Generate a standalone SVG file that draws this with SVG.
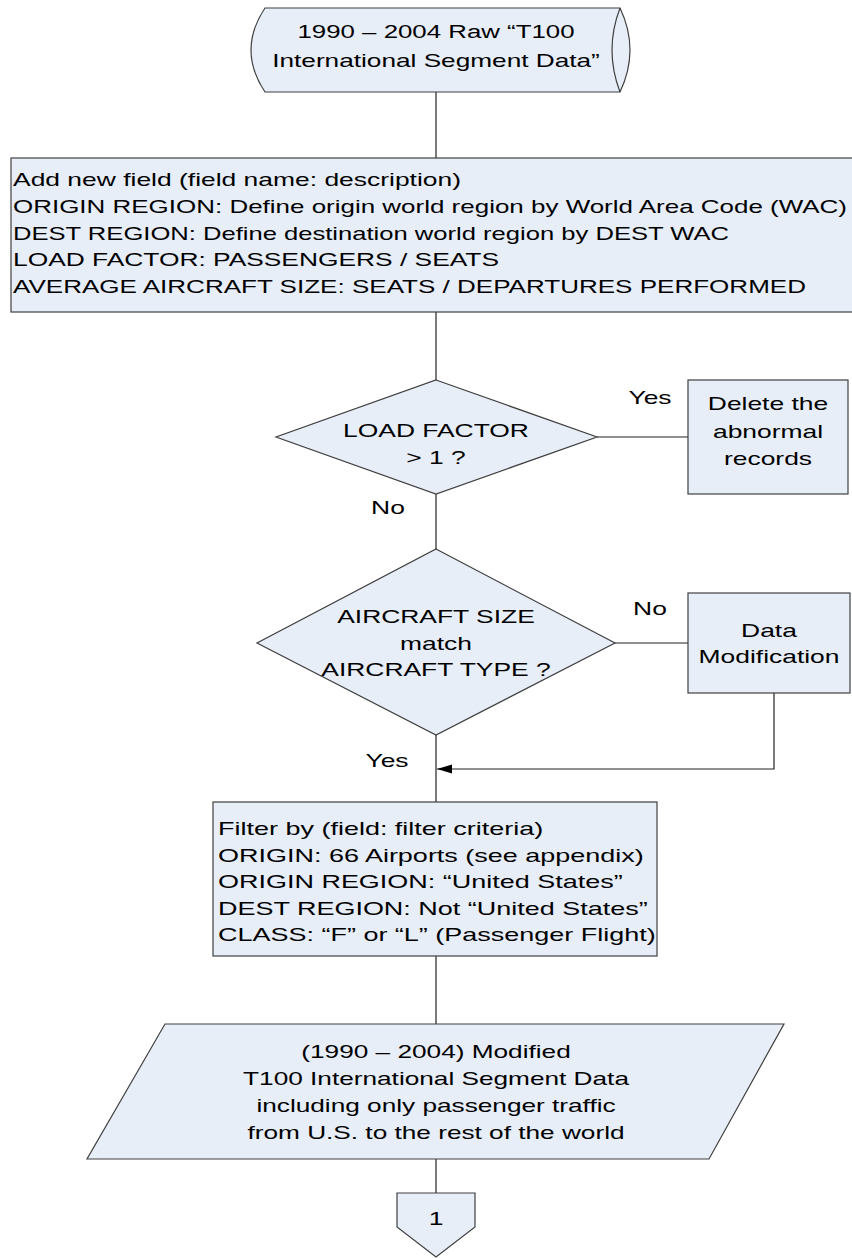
<svg xmlns="http://www.w3.org/2000/svg" width="852" height="1258" viewBox="0 0 852 1258">
<style>
.s{fill:#E7EEF8;stroke:#404040;stroke-width:1.2}
.c{fill:none;stroke:#222;stroke-width:1.2}
.t{font-family:"Liberation Sans",Arial,sans-serif;font-size:19px;fill:#000}
.m{text-anchor:middle}
</style>
<defs>
<marker id="ah" markerUnits="userSpaceOnUse" markerWidth="16" markerHeight="10" refX="15" refY="4.5" orient="auto">
<path d="M0,0 L15,4.5 L0,9 Z" fill="#000"/>
</marker>
</defs>
<rect width="852" height="1258" fill="#fff"/>
<g id="connectors">
<line class="c" x1="436" y1="92" x2="436" y2="158"/>
<line class="c" x1="436" y1="312" x2="436" y2="380"/>
<line class="c" x1="597" y1="437" x2="688" y2="437"/>
<line class="c" x1="436" y1="494" x2="436" y2="549"/>
<line class="c" x1="615" y1="643" x2="688" y2="643"/>
<polyline class="c" points="774,693 774,769 437,769" marker-end="url(#ah)"/>
<line class="c" x1="436" y1="735" x2="436" y2="802"/>
<line class="c" x1="436" y1="956" x2="436" y2="1024"/>
<line class="c" x1="436" y1="1159" x2="436" y2="1193"/>
</g>
<g id="raw-data">
<path class="s" d="M265,8 L620,8 Q640,50 620,92 L265,92 Q237,50 265,8 Z"/>
<path class="c" style="stroke:#404040" d="M620,8 Q604,50 620,92"/>
<text class="t m" transform="translate(436,38) scale(1.36,1)">1990 – 2004 Raw “T100</text>
<text class="t m" transform="translate(436,67) scale(1.38,1)">International Segment Data”</text>
</g>
<g id="add-fields">
<rect class="s" x="11" y="158" width="850" height="154"/>
<text class="t" x="13" y="186" textLength="448" lengthAdjust="spacingAndGlyphs">Add new field (field name: description)</text>
<text class="t" x="13" y="213" textLength="834" lengthAdjust="spacingAndGlyphs">ORIGIN REGION: Define origin world region by World Area Code (WAC)</text>
<text class="t" x="13" y="240" textLength="716" lengthAdjust="spacingAndGlyphs">DEST REGION: Define destination world region by DEST WAC</text>
<text class="t" x="13" y="266" textLength="486" lengthAdjust="spacingAndGlyphs">LOAD FACTOR: PASSENGERS / SEATS</text>
<text class="t" x="13" y="293" textLength="793" lengthAdjust="spacingAndGlyphs">AVERAGE AIRCRAFT SIZE: SEATS / DEPARTURES PERFORMED</text>
</g>
<g id="load-factor-check">
<polygon class="s" points="436,380 597,437 436,494 276,437"/>
<text class="t m" transform="translate(436,437) scale(1.39,1)">LOAD FACTOR</text>
<text class="t m" transform="translate(436,464) scale(1.39,1)">&gt; 1 ?</text>
</g>
<g id="label-yes-1">
<text class="t m" transform="translate(650,404) scale(1.39,1)">Yes</text>
</g>
<g id="delete-records">
<rect class="s" x="688" y="380" width="160" height="114"/>
<text class="t m" transform="translate(768,410) scale(1.39,1)">Delete the</text>
<text class="t m" transform="translate(768,438) scale(1.39,1)">abnormal</text>
<text class="t m" transform="translate(768,465) scale(1.39,1)">records</text>
</g>
<g id="label-no-1">
<text class="t m" transform="translate(388,514) scale(1.39,1)">No</text>
</g>
<g id="size-check">
<polygon class="s" points="436,549 615,643 436,735 257,643"/>
<text class="t m" transform="translate(436,623) scale(1.39,1)">AIRCRAFT SIZE</text>
<text class="t m" transform="translate(436,650) scale(1.39,1)">match</text>
<text class="t m" transform="translate(436,676) scale(1.39,1)">AIRCRAFT TYPE ?</text>
</g>
<g id="label-no-2">
<text class="t m" transform="translate(650,615) scale(1.39,1)">No</text>
</g>
<g id="data-modification">
<rect class="s" x="688" y="593" width="162" height="100"/>
<text class="t m" transform="translate(769,637) scale(1.39,1)">Data</text>
<text class="t m" transform="translate(769,663) scale(1.39,1)">Modification</text>
</g>
<g id="label-yes-2">
<text class="t m" transform="translate(387,767) scale(1.39,1)">Yes</text>
</g>
<g id="filter">
<rect class="s" x="213" y="802" width="444" height="154"/>
<text class="t" transform="translate(218,835) scale(1.42,1)">Filter by (field: filter criteria)</text>
<text class="t" transform="translate(218,862) scale(1.42,1)">ORIGIN: 66 Airports (see appendix)</text>
<text class="t" transform="translate(218,888) scale(1.42,1)">ORIGIN REGION: “United States”</text>
<text class="t" transform="translate(218,915) scale(1.42,1)">DEST REGION: Not “United States”</text>
<text class="t" transform="translate(218,941) scale(1.42,1)">CLASS: “F” or “L” (Passenger Flight)</text>
</g>
<g id="modified-data">
<polygon class="s" points="165,1024 784,1024 709,1159 87,1159"/>
<text class="t m" transform="translate(436,1058) scale(1.38,1)">(1990 – 2004) Modified</text>
<text class="t m" transform="translate(436,1085) scale(1.38,1)">T100 International Segment Data</text>
<text class="t m" transform="translate(436,1112) scale(1.38,1)">including only passenger traffic</text>
<text class="t m" transform="translate(436,1139) scale(1.38,1)">from U.S. to the rest of the world</text>
</g>
<g id="connector-1">
<polygon class="s" points="397,1193 475,1193 475,1227 436,1257 397,1227"/>
<text class="t m" transform="translate(436,1225) scale(1.39,1)">1</text>
</g>
</svg>
